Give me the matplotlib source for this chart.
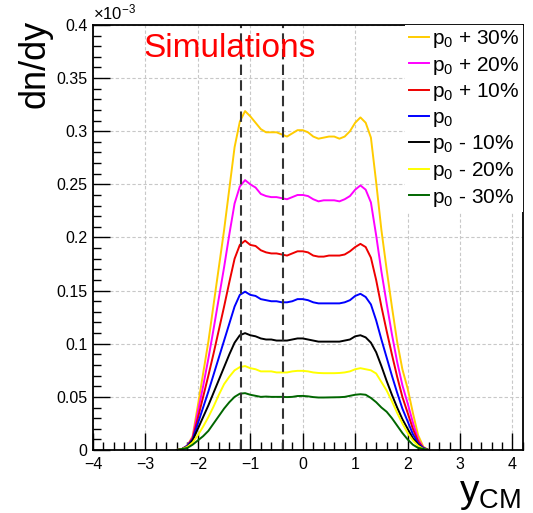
import matplotlib
matplotlib.use("Agg")
import matplotlib.pyplot as plt
from matplotlib.ticker import MultipleLocator, FormatStrFormatter

plt.rcParams['font.family'] = ['Liberation Sans', 'DejaVu Sans']
plt.rcParams['mathtext.fontset'] = 'custom'
plt.rcParams['mathtext.rm'] = 'Liberation Sans'
plt.rcParams['mathtext.it'] = 'Liberation Sans'

# rapidity grid (y_CM)
y_cm = [-2.4, -2.3, -2.2, -2.1, -2.0, -1.9, -1.8, -1.7, -1.6, -1.5, -1.4, -1.3,
        -1.2, -1.1, -1.0, -0.9, -0.8, -0.7, -0.6, -0.5, -0.4, -0.3, -0.2, -0.1,
        0.0, 0.1, 0.2, 0.3, 0.4, 0.5, 0.6, 0.7, 0.8, 0.9, 1.0, 1.1, 1.2, 1.3,
        1.4, 1.5, 1.6, 1.7, 1.8, 1.9, 2.0, 2.1, 2.2, 2.3, 2.4]

# dn/dy in units of 1e-3
p30 = [0, .001, .004, .013, .042, .072, .102, .137, .172, .207, .246, .285, .309, .319, .314,
       .308, .302, .299, .299, .299, .297, .295, .298, .301, .301, .299, .295, .293, .294, .295,
       .295, .293, .295, .300, .308, .313, .308, .294, .252, .207, .170, .135, .102, .076, .058,
       .035, .014, .003, 0]
p20 = [0, .001, .004, .012, .036, .060, .086, .114, .143, .172, .203, .232, .248, .254, .250,
       .247, .241, .239, .238, .238, .237, .236, .238, .240, .240, .239, .236, .234, .235, .235,
       .235, .234, .236, .239, .245, .249, .245, .233, .202, .168, .138, .109, .083, .061, .044,
       .026, .010, .002, 0]
p10 = [0, .001, .004, .011, .030, .050, .070, .091, .113, .135, .158, .180, .193, .197, .193,
       .192, .188, .186, .185, .185, .184, .183, .185, .187, .187, .186, .183, .182, .182, .183,
       .183, .183, .184, .187, .191, .194, .191, .181, .160, .135, .112, .090, .069, .050, .035,
       .020, .008, .002, 0]
p0 = [0, .001, .004, .010, .025, .040, .055, .071, .087, .103, .119, .135, .146, .149, .146,
      .145, .142, .141, .140, .140, .139, .139, .140, .142, .142, .141, .139, .138, .138, .138,
      .138, .138, .139, .141, .145, .147, .144, .137, .122, .104, .087, .070, .054, .039, .027,
      .015, .006, .002, 0]
m10 = [0, .001, .003, .009, .020, .031, .042, .054, .066, .078, .090, .101, .108, .110, .108,
       .107, .105, .104, .104, .103, .103, .103, .104, .105, .105, .104, .103, .102, .102, .102,
       .102, .102, .103, .104, .107, .108, .106, .101, .092, .079, .065, .052, .040, .029, .020,
       .011, .005, .001, 0]
m20 = [0, .001, .003, .007, .014, .022, .031, .041, .052, .062, .069, .075, .078, .079, .077,
       .076, .074, .074, .074, .073, .073, .073, .074, .0745, .0745, .074, .073, .0725, .0723, .0723,
       .0723, .0725, .073, .074, .076, .077, .076, .075, .072, .064, .056, .046, .035, .025, .016,
       .009, .004, .001, 0]
m30 = [0, .001, .002, .005, .009, .013, .018, .025, .032, .039, .045, .050, .053, .0535, .052,
       .051, .050, .0503, .050, .050, .050, .0498, .050, .0508, .0509, .0505, .0498, .0494, .0494, .0495,
       .0496, .0497, .050, .051, .052, .0525, .052, .049, .045, .040, .036, .030, .023, .016, .010,
       .005, .002, .001, 0]

series = [p30, p20, p10, p0, m10, m20, m30]
labels = ['p$_0$ + 30%', 'p$_0$ + 20%', 'p$_0$ + 10%', 'p$_0$',
          'p$_0$ - 10%', 'p$_0$ - 20%', 'p$_0$ - 30%']
colors = ['#ffcc00', '#ff00ff', '#ee0000', '#0000ff', '#000000', '#ffff00', '#006600']

cut_lines = [-1.18, -0.38]

fig = plt.figure(figsize=(5.33, 5.13), dpi=100)
ax = fig.add_axes([0.1745, 0.1228, 0.8067, 0.8285])

for ys, lab, c in zip(series, labels, colors):
    ax.plot(y_cm, ys, color=c, lw=1.4, label=lab, solid_joinstyle='round')

for xc in cut_lines:
    ax.axvline(xc, color='#333333', lw=1.5, ls=(0, (5, 2.5)))

ax.set_xlim(-4, 4.2)
ax.set_ylim(0, 0.4)
ax.xaxis.set_major_locator(MultipleLocator(1))
ax.xaxis.set_minor_locator(MultipleLocator(0.2))
ax.yaxis.set_major_locator(MultipleLocator(0.05))
ax.yaxis.set_minor_locator(MultipleLocator(0.01))
ax.yaxis.set_major_formatter(FormatStrFormatter('%g'))
ax.tick_params(which='both', direction='in', top=False, right=False, labelsize=11.5, width=1)
ax.tick_params(which='major', length=12)
ax.tick_params(which='minor', length=6)
ax.tick_params(axis='x', pad=5)
ax.tick_params(axis='y', pad=4)
ax.grid(True, which='major', color='#c8c8c8', ls=(0, (3, 2)), lw=0.8)
for s in ax.spines.values():
    s.set_linewidth(1.3)

ax.text(0.0, 1.005, r'$\times$10$^{-3}$', transform=ax.transAxes, fontsize=12,
        ha='left', va='bottom')
ax.text(-1.39, 0.378, 'Simulations', color='red', fontsize=24, ha='center', va='center')

fig.text(0.066, 0.875, 'dn/dy', rotation=90, fontsize=26, ha='center', va='center')
fig.text(0.978, 0.002, 'y$_{\\rm CM}$', fontsize=28, ha='right', va='bottom')

leg = ax.legend(loc='upper right', fontsize=15, frameon=True, fancybox=False,
                edgecolor='none', facecolor='white', framealpha=1,
                handlelength=1.0, handletextpad=0.15, labelspacing=0.22,
                borderaxespad=0.0, borderpad=0.15)

fig.savefig('out.png', dpi=100)
